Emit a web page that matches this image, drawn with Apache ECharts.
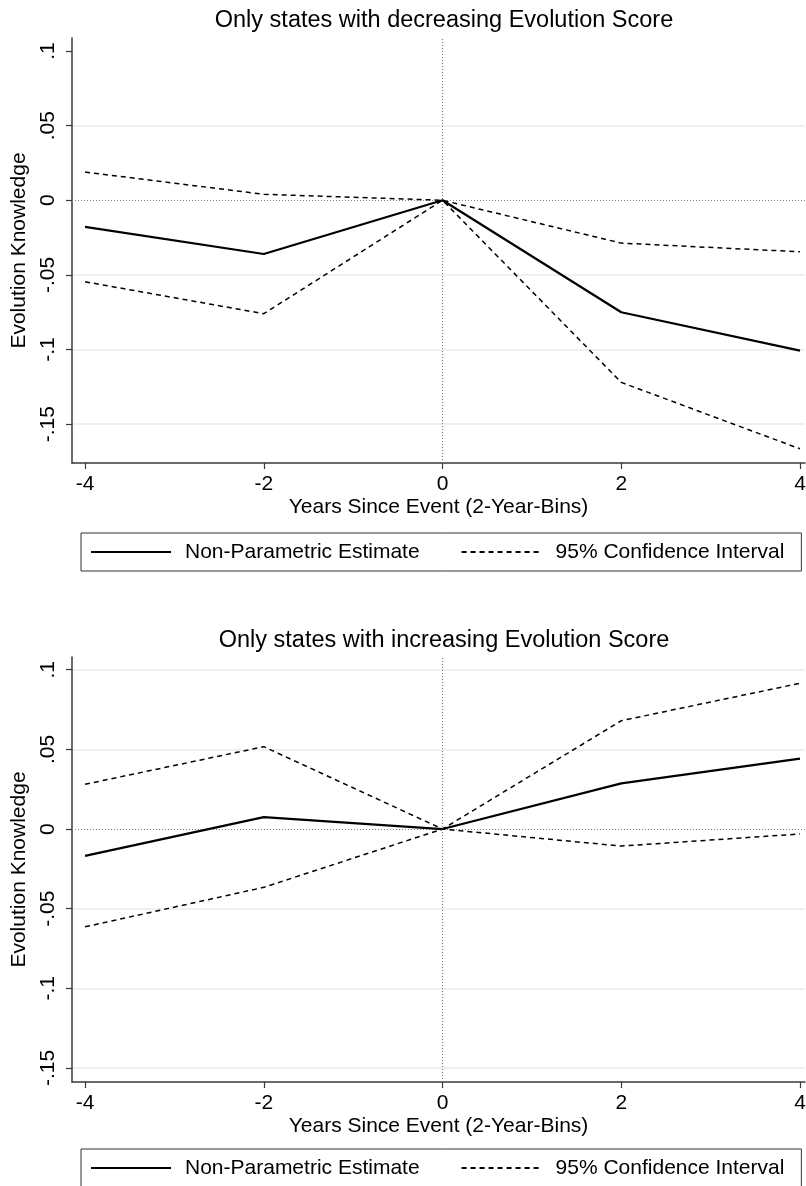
<!DOCTYPE html>
<html>
<head>
<meta charset="utf-8">
<script src="https://cdn.jsdelivr.net/npm/echarts@6/dist/echarts.min.js"></script>
<style>
html,body{margin:0;padding:0;background:#fff;}
#chart{width:806px;height:1186px;}
</style>
</head>
<body>
<div id="chart"></div>
<script>
// ---- data ----
const xValues = [-4, -2, 0, 2, 4];
const decEstimate = [-0.0178, -0.036, 0, -0.075, -0.1007];
const decUpper = [0.0189, 0.004, 0, -0.0287, -0.0345];
const decLower = [-0.0546, -0.076, 0, -0.122, -0.1665];
const incEstimate = [-0.0168, 0.0075, 0, 0.0287, 0.0442];
const incUpper = [0.0281, 0.0517, 0, 0.068, 0.0915];
const incLower = [-0.0614, -0.0366, 0, -0.0107, -0.0031];
const xTickValues = [-4, -2, 0, 2, 4];
const xTickLabels = ['-4', '-2', '0', '2', '4'];
const yTickValues = [-0.15, -0.1, -0.05, 0, 0.05, 0.1];
const yTickLabels = ['-.15', '-.1', '-.05', '0', '.05', '.1'];
const titles = ['Only states with decreasing Evolution Score', 'Only states with increasing Evolution Score'];
const xName = 'Years Since Event (2-Year-Bins)';
const yName = 'Evolution Knowledge';
const estName = 'Non-Parametric Estimate';
const ciName = '95% Confidence Interval';

// ---- helpers ----
const FONT = 'Arial, "Liberation Sans", sans-serif';
const zip = arr => xValues.map((x, i) => [x, arr[i]]);
const xFmt = v => { const i = xTickValues.indexOf(v); return i >= 0 ? xTickLabels[i] : ''; };
const yFmt = v => { for (let i = 0; i < yTickValues.length; i++) { if (Math.abs(yTickValues[i] - v) < 1e-9) return yTickLabels[i]; } return ''; };

function xAxisCfg(gi) {
  return {
    type: 'value', gridIndex: gi, min: -4.146, max: 4.056,
    name: xName, nameLocation: 'middle', nameGap: 34,
    nameTextStyle: { fontFamily: FONT, fontSize: 21, color: '#000' },
    axisLine: { show: true, onZero: false, lineStyle: { color: '#3a3a3a', width: 1.5 } },
    axisTick: { show: true, inside: false, length: 6, customValues: xTickValues, lineStyle: { color: '#3a3a3a', width: 1.2 } },
    axisLabel: { show: true, customValues: xTickValues, formatter: xFmt, margin: 11, fontFamily: FONT, fontSize: 21, color: '#000' },
    splitLine: { show: false }
  };
}
function yAxisCfg(gi, min, max, gridColors) {
  return {
    type: 'value', gridIndex: gi, min: min, max: max,
    name: yName, nameLocation: 'middle', nameGap: 35, nameRotate: 90,
    nameTextStyle: { fontFamily: FONT, fontSize: 21, color: '#000' },
    axisLine: { show: true, onZero: false, lineStyle: { color: '#3a3a3a', width: 1.5 } },
    axisTick: { show: true, inside: false, length: 6, customValues: yTickValues, lineStyle: { color: '#3a3a3a', width: 1.2 } },
    axisLabel: { show: true, customValues: yTickValues, formatter: yFmt, rotate: 90, margin: 13, fontFamily: FONT, fontSize: 21, color: '#000' },
    splitLine: { show: true, lineStyle: { color: gridColors, width: 1.5 } }
  };
}
function lineSeries(name, arr, gi, dashed, withRef) {
  const s = {
    name: name, type: 'line', xAxisIndex: gi, yAxisIndex: gi,
    data: zip(arr), symbol: 'none', showSymbol: false, silent: true, animation: false,
    lineStyle: dashed ? { color: '#000', width: 1.5, type: [5, 4] } : { color: '#000', width: 2.2, type: 'solid' },
    itemStyle: { color: 'transparent', borderWidth: 0, opacity: 0 },
    z: 3
  };
  if (withRef) {
    s.markLine = {
      silent: true, symbol: ['none', 'none'], label: { show: false }, animation: false,
      lineStyle: { color: '#808080', width: 1.2, type: [1, 2], opacity: 1 },
      data: [{ xAxis: 0 }, { yAxis: 0 }],
      z: 1
    };
  }
  return s;
}
function legendCfg(top) {
  return {
    show: true, left: 81, top: top, orient: 'horizontal',
    data: [{ name: estName }, { name: ciName }],
    itemWidth: 80, itemHeight: 22, itemGap: 41,
    padding: [8, 17, 8, 9],
    borderColor: '#333', borderWidth: 1, borderRadius: 0, backgroundColor: '#fff',
    selectedMode: false,
    itemStyle: { opacity: 0 },
    lineStyle: { opacity: 1 },
    textStyle: { fontFamily: FONT, fontSize: 21, color: '#000', lineHeight: 22, padding: [0, 0, 0, 9] }
  };
}

const T = 'transparent', G = '#e6eef0';
const option = {
  backgroundColor: '#fff',
  animation: false,
  title: [
    { text: titles[0], left: 444, top: 9, textAlign: 'center', padding: 0, textStyle: { fontFamily: FONT, fontSize: 23.5, fontWeight: 'normal', color: '#000' } },
    { text: titles[1], left: 444, top: 629, textAlign: 'center', padding: 0, textStyle: { fontFamily: FONT, fontSize: 23.5, fontWeight: 'normal', color: '#000' } }
  ],
  legend: [legendCfg(533), legendCfg(1149)],
  grid: [
    { left: 72, top: 38, width: 733, height: 425, containLabel: false, outerBoundsMode: 'none', show: false },
    { left: 72, top: 657, width: 733, height: 425, containLabel: false, outerBoundsMode: 'none', show: false }
  ],
  xAxis: [xAxisCfg(0), xAxisCfg(1)],
  yAxis: [
    yAxisCfg(0, -0.176, 0.1087, [G, G, G, T, G, T]),
    yAxisCfg(1, -0.1588, 0.108, [G, G, G, T, G, G])
  ],
  series: [
    lineSeries(estName, decEstimate, 0, false, true),
    lineSeries(ciName, decUpper, 0, true, false),
    lineSeries(ciName, decLower, 0, true, false),
    lineSeries(estName, incEstimate, 1, false, true),
    lineSeries(ciName, incUpper, 1, true, false),
    lineSeries(ciName, incLower, 1, true, false)
  ]
};
const chart = echarts.init(document.getElementById('chart'), null, { renderer: 'canvas' });
chart.setOption(option);
</script>
</body>
</html>
